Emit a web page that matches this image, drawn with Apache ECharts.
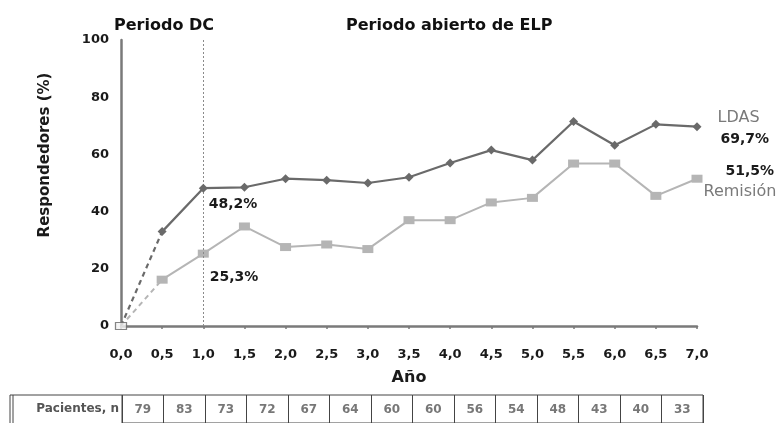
<!DOCTYPE html>
<html><head><meta charset="utf-8">
<script src="https://cdn.jsdelivr.net/npm/echarts@6/dist/echarts.min.js"></script>
<style>html,body{margin:0;padding:0;background:#fff}#c{width:783px;height:423px}</style>
</head><body><div id="c"></div>
<script>
const years = [0, 0.5, 1.0, 1.5, 2.0, 2.5, 3.0, 3.5, 4.0, 4.5, 5.0, 5.5, 6.0, 6.5, 7.0];
const ldas = [0, 33, 48.2, 48.5, 51.5, 51, 50, 52, 57, 61.5, 58, 71.5, 63.2, 70.5, 69.7];
const remision = [0, 16.2, 25.3, 34.8, 27.6, 28.5, 26.9, 37, 37, 43.2, 44.8, 56.8, 56.8, 45.5, 51.5];
const pacientes = [79, 83, 73, 72, 67, 64, 60, 60, 56, 54, 48, 43, 40, 33];
const xTickLabels = ['0,0','0,5','1,0','1,5','2,0','2,5','3,0','3,5','4,0','4,5','5,0','5,5','6,0','6,5','7,0'];
const yTicks = [0, 20, 40, 60, 80, 100];
const titles = ['Periodo DC', 'Periodo abierto de ELP'];

const FONT = 'DejaVu Sans, Verdana, sans-serif';
const DARK = '#6a6a6a', LIGHT = '#b5b5b5';
const pair = (arr, i) => [years[i], arr[i]];

const dashedPart = (arr) => years.map((y, i) => i <= 1 ? pair(arr, i) : [y, '-']);
const solidPart = (arr, labels) => years.map((y, i) => {
  if (i < 1) return [y, '-'];
  const d = { value: pair(arr, i) };
  if (labels[i]) d.label = labels[i];
  return d;
});

const ldasLabels = {
  2: { show: true, position: 'right', distance: 1, offset: [0, 16], formatter: '48,2%', fontWeight: 'bold', fontSize: 14, color: '#1a1a1a', fontFamily: FONT },
  14: { show: true, position: 'right', distance: 16, offset: [0, 2],
        formatter: '{a|LDAS}\n{b|69,7%}',
        rich: { a: { fontSize: 16, color: '#7a7a7a', fontFamily: FONT, lineHeight: 22 },
                b: { fontSize: 14, color: '#1a1a1a', fontWeight: 'bold', fontFamily: FONT, lineHeight: 22, padding: [0,0,0,3] } } }
};
const remLabels = {
  2: { show: true, position: 'right', distance: 1, offset: [0, 24], formatter: '25,3%', fontWeight: 'bold', fontSize: 14, color: '#1a1a1a', fontFamily: FONT },
  14: { show: true, position: 'right', distance: 1, offset: [0, 3],
        formatter: '{b|51,5%}\n{a|Remisión}',
        rich: { a: { fontSize: 16, color: '#7a7a7a', fontFamily: FONT, lineHeight: 20 },
                b: { fontSize: 14, color: '#1a1a1a', fontWeight: 'bold', fontFamily: FONT, lineHeight: 20, padding: [0,0,0,22] } } }
};

const chart = echarts.init(document.getElementById('c'));
chart.setOption({
  animation: false,
  backgroundColor: '#fff',
  title: [
    { text: titles[0], left: 109, top: 13, textStyle: { fontFamily: FONT, fontSize: 16, fontWeight: 'bold', color: '#111' } },
    { text: titles[1], left: 341, top: 13, textStyle: { fontFamily: FONT, fontSize: 16, fontWeight: 'bold', color: '#111' } }
  ],
  grid: [
    { left: 121, right: 86, top: 40, bottom: 97 },
    { left: 122, right: 80, top: 395, height: 30, show: true, borderColor: '#444', borderWidth: 1 }
  ],
  xAxis: [
    { type: 'value', gridIndex: 0, min: 0, max: 7, interval: 0.5,
      name: 'Año', nameLocation: 'middle', nameGap: 44,
      nameTextStyle: { fontFamily: FONT, fontSize: 16, fontWeight: 'bold', color: '#1a1a1a' },
      axisLine: { lineStyle: { color: '#7a7a7a', width: 2.5 } },
      axisTick: { show: true, length: 3, lineStyle: { color: '#7a7a7a', width: 1.5 } },
      splitLine: { show: false },
      axisLabel: { margin: 22, fontFamily: FONT, fontSize: 13, fontWeight: 'bold', color: '#1a1a1a',
                   formatter: v => xTickLabels[Math.round(v * 2)] } },
    { type: 'category', gridIndex: 1, data: pacientes.map(String), boundaryGap: true,
      axisLine: { show: false }, axisTick: { show: false }, axisLabel: { show: false },
      splitLine: { show: true, lineStyle: { color: '#444', width: 1 } } }
  ],
  yAxis: [
    { type: 'value', gridIndex: 0, min: 0, max: 100, interval: 20,
      name: 'Respondedores (%)', nameLocation: 'middle', nameGap: 68,
      nameTextStyle: { fontFamily: FONT, fontSize: 15, fontWeight: 'bold', color: '#1a1a1a', padding: [0, 0, 0, 56] },
      axisLine: { show: true, lineStyle: { color: '#7a7a7a', width: 2.5 } },
      axisTick: { show: false },
      splitLine: { show: false },
      axisLabel: { margin: 12, fontFamily: FONT, fontSize: 13, fontWeight: 'bold', color: '#1a1a1a',
                   formatter: v => yTicks.includes(v) ? String(v) : '' } },
    { type: 'category', gridIndex: 1, data: ['Pacientes, n'],
      axisLine: { show: false }, axisTick: { show: false }, splitLine: { show: false },
      axisLabel: { margin: 3, fontFamily: FONT, fontSize: 12, fontWeight: 'bold', color: '#555' } }
  ],
  graphic: [
    { type: 'polyline', shape: { points: [[122, 395], [10, 395], [10, 430]] }, style: { stroke: '#444', lineWidth: 1, fill: null } },
    { type: 'line', shape: { x1: 13, y1: 395, x2: 13, y2: 430 }, style: { stroke: '#444', lineWidth: 1 } }
  ],
  series: [
    { type: 'line', xAxisIndex: 0, yAxisIndex: 0, data: dashedPart(remision),
      symbol: 'none', lineStyle: { color: LIGHT, width: 2, type: [5, 4] }, z: 2 },
    { type: 'line', xAxisIndex: 0, yAxisIndex: 0, data: solidPart(remision, remLabels),
      symbol: 'rect', symbolSize: [11, 8], itemStyle: { color: LIGHT }, lineStyle: { color: LIGHT, width: 2 }, z: 3 },
    { type: 'line', xAxisIndex: 0, yAxisIndex: 0, data: dashedPart(ldas),
      symbol: 'none', lineStyle: { color: DARK, width: 2.2, type: [5, 4] }, z: 4 },
    { type: 'line', xAxisIndex: 0, yAxisIndex: 0, data: solidPart(ldas, ldasLabels),
      symbol: 'diamond', symbolSize: 9, itemStyle: { color: DARK }, lineStyle: { color: DARK, width: 2.2 }, z: 5,
      markLine: { silent: true, symbol: 'none', label: { show: false },
                  lineStyle: { color: '#8a8a8a', width: 1, type: [2, 2] },
                  data: [[{ coord: [years[2], 0] }, { coord: [years[2], 100] }]] } },
    { type: 'scatter', xAxisIndex: 0, yAxisIndex: 0, data: [pair(ldas, 0)],
      symbol: 'rect', symbolSize: [11, 7], itemStyle: { color: '#f2f2f2', borderColor: '#666', borderWidth: 1 }, z: 6 },
    { type: 'scatter', xAxisIndex: 1, yAxisIndex: 1, symbolSize: 1, itemStyle: { color: 'rgba(0,0,0,0)' },
      data: pacientes.map((p, i) => [i, 0]),
      label: { show: true, position: 'inside', offset: [0, 1], formatter: p => String(pacientes[p.dataIndex]),
               fontFamily: FONT, fontSize: 12, fontWeight: 'bold', color: '#555' } }
  ]
});
</script></body></html>
